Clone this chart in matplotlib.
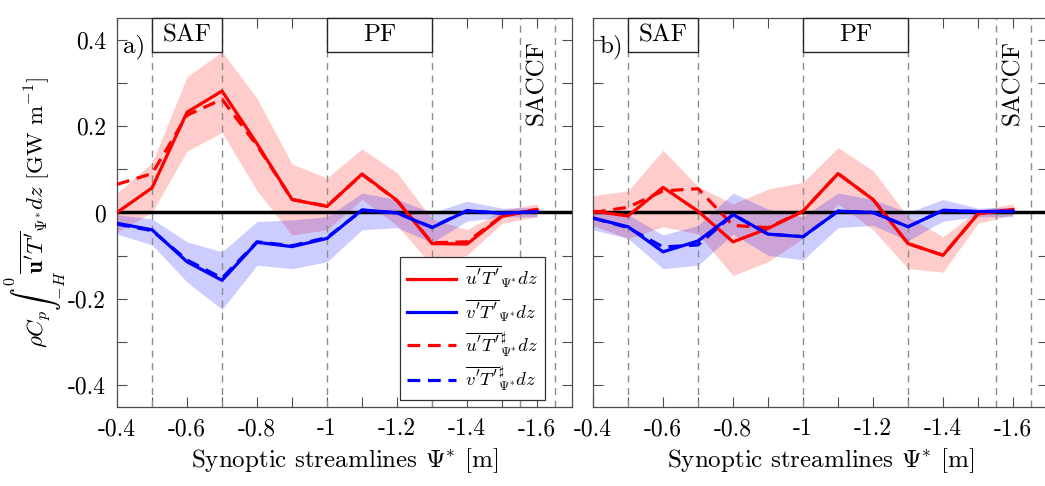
import numpy as np
import matplotlib
matplotlib.use('Agg')
import matplotlib.pyplot as plt
from matplotlib.patches import Rectangle
from matplotlib.lines import Line2D

plt.rcParams['font.family'] = ['cmr10', 'DejaVu Serif']
plt.rcParams['mathtext.fontset'] = 'cm'
plt.rcParams['axes.unicode_minus'] = False
plt.rcParams['axes.formatter.use_mathtext'] = True

# streamline positions
psi = [-0.4, -0.5, -0.6, -0.7, -0.8, -0.9, -1.0, -1.1, -1.2, -1.3, -1.4, -1.5, -1.6]

# panel a)
a_u = [0.0, 0.057, 0.232, 0.281, 0.159, 0.03, 0.014, 0.089, 0.028, -0.072, -0.073, -0.009, 0.007]
a_u_hi = [0.045, 0.115, 0.314, 0.372, 0.264, 0.112, 0.08, 0.147, 0.092, -0.015, -0.04, 0.005, 0.02]
a_u_lo = [-0.045, 0.0, 0.142, 0.185, 0.05, -0.052, -0.04, 0.03, -0.03, -0.122, -0.099, -0.025, -0.01]
a_u_sh = [0.065, 0.09, 0.225, 0.262, 0.155, 0.03, 0.015, 0.088, 0.027, -0.07, -0.068, -0.008, 0.007]
a_v = [-0.025, -0.04, -0.114, -0.157, -0.069, -0.079, -0.06, 0.006, -0.001, -0.035, 0.004, -0.002, 0.002]
a_v_hi = [-0.005, -0.015, -0.068, -0.091, -0.021, -0.017, -0.01, 0.045, 0.03, 0.0, 0.026, 0.01, 0.012]
a_v_lo = [-0.05, -0.075, -0.161, -0.224, -0.122, -0.13, -0.114, -0.04, -0.035, -0.07, -0.02, -0.01, -0.01]
a_v_sh = [-0.027, -0.042, -0.11, -0.152, -0.068, -0.077, -0.058, 0.005, -0.001, -0.034, 0.004, -0.002, 0.002]

# panel b)
b_u = [0.003, -0.008, 0.058, 0.003, -0.068, -0.037, 0.003, 0.09, 0.03, -0.072, -0.099, -0.003, 0.007]
b_u_hi = [0.039, 0.05, 0.144, 0.06, 0.02, 0.054, 0.07, 0.15, 0.097, -0.01, -0.056, 0.005, 0.02]
b_u_lo = [-0.03, -0.06, -0.033, -0.05, -0.146, -0.114, -0.06, 0.02, -0.04, -0.13, -0.138, -0.025, -0.005]
b_u_sh = [0.0, 0.012, 0.05, 0.055, -0.03, -0.035, 0.003, 0.09, 0.03, -0.072, -0.099, -0.003, 0.007]
b_v = [-0.013, -0.033, -0.091, -0.066, -0.005, -0.05, -0.056, 0.003, 0.0, -0.033, 0.005, 0.002, 0.003]
b_v_hi = [0.0, -0.005, -0.052, -0.03, 0.045, 0.008, -0.01, 0.045, 0.03, 0.0, 0.03, 0.01, 0.012]
b_v_lo = [-0.04, -0.06, -0.13, -0.122, -0.05, -0.099, -0.11, -0.035, -0.03, -0.065, -0.02, -0.01, -0.01]
b_v_sh = [-0.013, -0.035, -0.08, -0.075, -0.005, -0.05, -0.056, 0.003, 0.0, -0.033, 0.005, 0.002, 0.003]

fronts = [-0.5, -0.7, -1.0, -1.3, -1.55, -1.65]
xticks = [-0.4, -0.5, -0.6, -0.7, -0.8, -0.9, -1.0, -1.1, -1.2, -1.3, -1.4, -1.5, -1.6]
xticklabels = ['-0.4', '', '-0.6', '', '-0.8', '', '-1', '', '-1.2', '', '-1.4', '', '-1.6']
yticks = [-0.4, -0.3, -0.2, -0.1, 0, 0.1, 0.2, 0.3, 0.4]
yticklabels = ['-0.4', '', '-0.2', '', '0', '', '0.2', '', '0.4']

DASH = (0, (4, 2.4))

fig = plt.figure(figsize=(10.45, 4.86), dpi=100)
axa = fig.add_axes([0.112, 0.1626, 0.4354, 0.8004])
axb = fig.add_axes([0.5675, 0.1626, 0.4354, 0.8004])


def draw_panel(ax, u, u_hi, u_lo, u_sh, v, v_hi, v_lo, v_sh, tag):
    ax.fill_between(psi, u_lo, u_hi, color='red', alpha=0.2, lw=0, zorder=1)
    ax.fill_between(psi, v_lo, v_hi, color='blue', alpha=0.2, lw=0, zorder=1)
    for f in fronts:
        ax.axvline(f, color='0.55', lw=1, ls=(0, (5, 4)), zorder=2)
    ax.axhline(0, color='k', lw=2.5, zorder=3)
    ax.plot(psi, u_sh, color='red', lw=2.3, ls=DASH, zorder=4)
    ax.plot(psi, v_sh, color='blue', lw=2.3, ls=DASH, zorder=4)
    ax.plot(psi, u, color='red', lw=2.3, zorder=5)
    ax.plot(psi, v, color='blue', lw=2.3, zorder=5)

    ax.set_xlim(-0.4, -1.7)
    ax.set_ylim(-0.45, 0.45)
    ax.set_xticks(xticks)
    ax.set_xticklabels(xticklabels)
    ax.set_yticks(yticks)
    ax.set_yticklabels(yticklabels)
    ax.tick_params(direction='in', length=7, width=0.8, top=True, right=True,
                   labelsize=17, color='0.3', pad=8)
    for s in ax.spines.values():
        s.set_color('0.3')
        s.set_linewidth(0.9)

    # front labels
    for x0, x1, name in [(-0.5, -0.7, 'SAF'), (-1.0, -1.3, 'PF')]:
        ax.add_patch(Rectangle((x0, 0.371), x1 - x0, 0.45 - 0.371, facecolor='white',
                               edgecolor='0.15', lw=1, zorder=6, clip_on=False))
        ax.text((x0 + x1) / 2, 0.41, name, ha='center', va='center', fontsize=18, zorder=7)
    ax.text(-1.601, 0.30, 'SACCF', rotation=90, ha='center', va='center', fontsize=18, zorder=7)
    ax.text(-0.418, 0.383, tag, ha='left', va='center', fontsize=18, zorder=7)
    ax.set_xlabel(r'Synoptic streamlines $\Psi^{*}$ [m]', fontsize=18, labelpad=4)


draw_panel(axa, a_u, a_u_hi, a_u_lo, a_u_sh, a_v, a_v_hi, a_v_lo, a_v_sh, 'a)')
draw_panel(axb, b_u, b_u_hi, b_u_lo, b_u_sh, b_v, b_v_hi, b_v_lo, b_v_sh, 'b)')
axb.set_yticklabels([])

axa.set_ylabel(r'$\rho C_p \int_{-H}^{0} \overline{\mathbf{u}^{\prime}T^{\prime}}_{\Psi^{*}} dz$ [GW m$^{-1}$]',
               fontsize=16.5, labelpad=0)

handles = [
    Line2D([], [], color='red', lw=2.3),
    Line2D([], [], color='blue', lw=2.3),
    Line2D([], [], color='red', lw=2.3, ls=DASH),
    Line2D([], [], color='blue', lw=2.3, ls=DASH),
]
labels = [
    r"$\overline{u^{\prime}T^{\prime}}_{\Psi^{*}} dz$",
    r"$\overline{v^{\prime}T^{\prime}}_{\Psi^{*}} dz$",
    r"$\overline{u^{\prime}T^{\prime}}^{\sharp}_{\Psi^{*}} dz$",
    r"$\overline{v^{\prime}T^{\prime}}^{\sharp}_{\Psi^{*}} dz$",
]
leg = axa.legend(handles, labels, loc='lower right', bbox_to_anchor=(0.94, 0.018),
                 fontsize=13.5, fancybox=False, framealpha=1, edgecolor='0.2',
                 handlelength=2.6, handletextpad=0.5, labelspacing=0.35,
                 borderpad=0.35, borderaxespad=0)
leg.get_frame().set_linewidth(0.9)
leg.set_zorder(10)

fig.savefig('out.png', dpi=100)
